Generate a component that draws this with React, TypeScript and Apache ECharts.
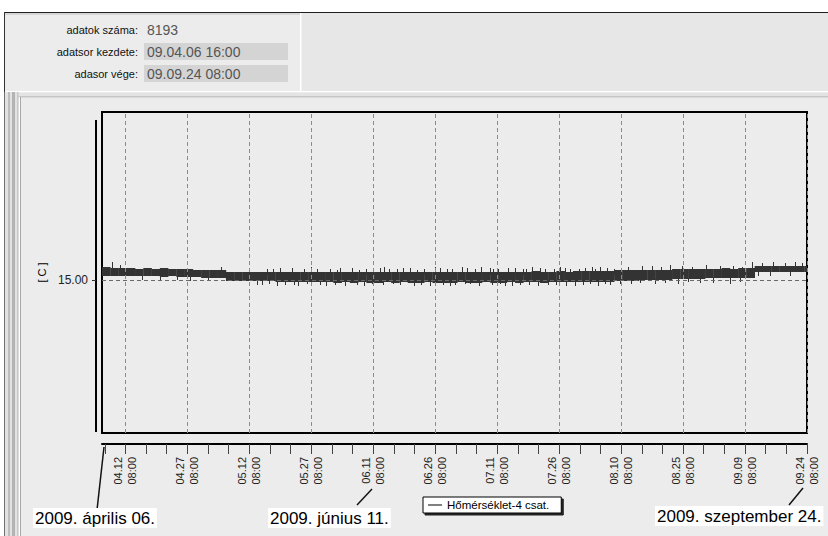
import React, { useEffect, useRef } from "react";
import * as echarts from "echarts";

// ---------- data ----------
const YEAR = 2009;
const SERIES_NAME = "Hőmérséklet-4 csat.";
const SERIES_START = ["04.06", "16:00"];
const SERIES_END = ["09.24", "08:00"];
const LABEL_DATES = ["04.12", "04.27", "05.12", "05.27", "06.11", "06.26", "07.11", "07.26", "08.10", "08.25", "09.09", "09.24"];
const LABEL_TIME = "08:00";
const MINOR_TICK_DAYS = 5;
const Y_TICKS = [15];
const Y_MIN = 13.47;
const Y_MAX = 16.68;

const INFO_LABELS = ["adatok száma:", "adatsor kezdete:", "adasor vége:"];
const INFO_VALUES = ["8193", "09.04.06 16:00", "09.09.24 08:00"];
const DATE_NOTES = ["2009. április 06.", "2009. június 11.", "2009. szeptember 24."];

// band envelope per 2-day bucket (high / low, °C)
const BUCKET_DAYS = 2;
const BAND_HIGH = [
  15.13, 15.12, 15.12, 15.12, 15.11, 15.12, 15.11, 15.12, 15.11, 15.11, 15.11, 15.10, 15.10, 15.10, 15.10,
  15.08, 15.08, 15.08, 15.08, 15.08, 15.08, 15.08, 15.08, 15.08, 15.08, 15.08, 15.08, 15.08, 15.08, 15.08,
  15.08, 15.08, 15.08, 15.08, 15.08, 15.08, 15.08, 15.08, 15.08, 15.08, 15.08, 15.08, 15.08, 15.08, 15.08,
  15.08, 15.08, 15.08, 15.08, 15.08, 15.08, 15.08, 15.09, 15.08, 15.08, 15.09, 15.08, 15.09, 15.09, 15.09,
  15.09, 15.09, 15.10,
  15.10, 15.10, 15.10, 15.10, 15.10, 15.10, 15.11, 15.11, 15.11, 15.11, 15.11, 15.11, 15.12, 15.11, 15.12, 15.12,
  15.14, 15.14, 15.14, 15.14, 15.14, 15.14, 15.14,
];
const BAND_LOW = [
  15.04, 15.04, 15.04, 15.04, 15.04, 15.04, 15.04, 15.03, 15.04, 15.03, 15.03, 15.03, 15.02, 15.02, 15.02,
  14.99, 14.99, 14.99, 14.99, 14.99, 14.99, 14.98, 14.98, 14.98, 14.98, 14.98, 14.98, 14.98, 14.97, 14.98,
  14.97, 14.98, 14.97, 14.97, 14.98, 14.97, 14.98, 14.97, 14.97, 14.98, 14.97, 14.97, 14.97, 14.98, 14.97,
  14.97, 14.98, 14.97, 14.97, 14.98, 14.97, 14.98, 14.98, 14.97, 14.98, 14.98, 14.98, 14.98, 14.98, 14.98,
  14.98, 14.98, 14.99,
  14.99, 14.99, 15.00, 15.00, 15.00, 15.00, 15.01, 15.01, 15.01, 15.01, 15.02, 15.02, 15.02, 15.02, 15.02, 15.02,
  15.08, 15.08, 15.08, 15.08, 15.08, 15.08, 15.08,
];
// individual spikes: [day since 04.06 00:00, low, high]
const SPIKES = [
  [3.1, 15.08, 15.18], [5.0, 15.10, 15.15], [10.4, 15.0, 15.05], [14.7, 15.0, 15.05], [18.8, 15.0, 15.05],
  [22.0, 14.99, 15.04], [26.3, 15.0, 15.04], [29.5, 15.09, 15.13],
  // downward strokes
  [38.2, 14.95, 15.0], [39.5, 14.95, 15.0], [41.0, 14.96, 15.0], [43.0, 14.94, 15.0], [45.0, 14.95, 15.0],
  [47.2, 14.95, 15.0], [48.1, 14.94, 15.0], [50.3, 14.96, 15.0], [53.4, 14.95, 15.0], [55.0, 14.94, 15.0],
  [57.0, 14.95, 15.0], [59.5, 14.94, 15.0], [62.4, 14.95, 15.0], [64.0, 14.94, 15.0], [66.0, 14.96, 15.0],
  [68.8, 14.95, 15.0], [71.0, 14.96, 15.0], [72.8, 14.95, 15.0], [76.1, 14.94, 15.0], [78.0, 14.95, 15.0],
  [80.1, 14.94, 15.0], [83.2, 14.95, 15.0], [85.0, 14.94, 15.0], [86.1, 14.95, 15.0], [88.5, 14.96, 15.0],
  [89.8, 14.96, 15.0], [92.0, 14.94, 15.0], [95.0, 14.95, 15.0], [97.0, 14.96, 15.0], [98.2, 14.94, 15.0],
  [100.0, 14.94, 15.0], [101.9, 14.95, 15.0], [104.0, 14.95, 15.0], [106.2, 14.94, 15.0], [108.6, 14.95, 15.0],
  [110.6, 14.95, 15.0], [113.0, 14.94, 15.0], [115.2, 14.94, 15.0], [117.0, 14.95, 15.0], [118.8, 14.96, 15.0],
  [120.8, 14.94, 15.0], [122.5, 14.96, 15.0], [123.6, 14.95, 15.0],
  // upward strokes
  [40.5, 15.05, 15.11], [42.1, 15.05, 15.11], [43.8, 15.05, 15.12], [46.7, 15.05, 15.12], [49.6, 15.05, 15.11],
  [51.2, 15.05, 15.13], [52.8, 15.05, 15.11], [55.9, 15.05, 15.11], [57.5, 15.05, 15.10], [58.3, 15.05, 15.12],
  [61.2, 15.05, 15.12], [63.0, 15.05, 15.10], [64.5, 15.05, 15.11], [67.9, 15.05, 15.12], [69.0, 15.05, 15.13],
  [70.1, 15.05, 15.11], [72.0, 15.05, 15.11], [73.6, 15.05, 15.12], [75.2, 15.05, 15.12], [77.0, 15.05, 15.10],
  [78.5, 15.05, 15.11], [81.2, 15.05, 15.13], [82.5, 15.05, 15.12], [84.3, 15.05, 15.11], [85.5, 15.05, 15.11],
  [87.8, 15.05, 15.13], [89.0, 15.05, 15.12], [91.0, 15.05, 15.11], [92.4, 15.05, 15.13], [94.6, 15.05, 15.12],
  [95.3, 15.05, 15.11], [96.5, 15.05, 15.11], [98.9, 15.05, 15.12], [100.6, 15.05, 15.12], [102.5, 15.05, 15.11],
  [103.4, 15.05, 15.11], [104.8, 15.05, 15.13], [106.7, 15.05, 15.12], [108.0, 15.05, 15.11], [110.0, 15.05, 15.11],
  [111.5, 15.05, 15.13], [112.8, 15.05, 15.12], [114.0, 15.05, 15.11], [116.1, 15.05, 15.11], [117.6, 15.05, 15.12],
  [119.2, 15.05, 15.13], [120.0, 15.05, 15.11], [121.2, 15.05, 15.13], [123.0, 15.05, 15.12], [124.7, 15.05, 15.11],
  // late summer
  [126.0, 14.96, 15.01], [128.8, 14.96, 15.01], [130.9, 14.97, 15.01], [134.5, 14.96, 15.01], [137.0, 14.97, 15.02],
  [140.0, 14.96, 15.02], [142.6, 14.98, 15.02], [145.4, 14.97, 15.03], [148.5, 14.97, 15.03], [152.7, 14.96, 15.03],
  [155.0, 14.98, 15.03],
  [128.0, 15.07, 15.13], [131.5, 15.07, 15.14], [133.8, 15.08, 15.14], [136.0, 15.08, 15.13], [138.2, 15.08, 15.15],
  [141.0, 15.08, 15.14], [143.5, 15.08, 15.13], [147.0, 15.08, 15.15], [150.3, 15.09, 15.14], [153.5, 15.09, 15.14],
  [155.5, 15.09, 15.13],
  [158.0, 15.10, 15.18], [160.4, 15.10, 15.17], [163.1, 15.10, 15.18], [166.0, 15.10, 15.17], [168.4, 15.10, 15.18],
  [170.1, 15.10, 15.17], [159.5, 15.04, 15.09], [162.4, 15.04, 15.09], [167.2, 15.04, 15.09],
];

// ---------- helpers ----------
function dayOf(mmdd: string, hhmm: string): number {
  const [m, d] = mmdd.split(".").map(Number);
  const [h, mi] = hhmm.split(":").map(Number);
  return (Date.UTC(YEAR, m - 1, d, h, mi) - Date.UTC(YEAR, 3, 6)) / 86400000;
}

const FONT = '"Liberation Sans", Arial, sans-serif';

export default function App() {
  const ref = useRef<HTMLDivElement>(null);

  useEffect(() => {
    if (!ref.current) return;
    const chart = echarts.init(ref.current, null, { renderer: "svg" });

    const START = dayOf(SERIES_START[0], SERIES_START[1]);
    const END = dayOf(SERIES_END[0], SERIES_END[1]);
    const labelPos = LABEL_DATES.map((d) => dayOf(d, LABEL_TIME));
    let t0 = labelPos[0];
    while (t0 - MINOR_TICK_DAYS >= START - 1e-9) t0 -= MINOR_TICK_DAYS;
    const minorTicks: number[] = [];
    for (let t = t0; t <= END + 1e-6; t += MINOR_TICK_DAYS) minorTicks.push(t);

    const bandData = BAND_HIGH.map((hi, i) => [
      START + i * BUCKET_DAYS,
      Math.min(START + (i + 1) * BUCKET_DAYS, END),
      BAND_LOW[i],
      hi,
    ]);

    const graphics: any[] = [];
    const rect = (x: number, y: number, w: number, h: number, fill: string) =>
      graphics.push({ type: "rect", silent: true, shape: { x, y, width: w, height: h }, style: { fill } });
    // window chrome
    rect(0, 0, 828, 12, "#ffffff");
    rect(0, 0, 4, 536, "#ffffff");
    rect(5, 13, 823, 78, "#E7E7E7");
    rect(5, 13, 295, 78, "#ECECEC");
    rect(5, 13, 295, 2, "#D6D6D6");
    rect(300, 13, 1.5, 78, "#ffffff");
    rect(5, 91, 823, 1.5, "#ffffff");
    rect(5, 92.5, 823, 3.5, "#E3E3E3");
    rect(5, 96, 823, 1.5, "#C6C6C6");
    rect(4, 12, 824, 1, "#1e1e1e");
    rect(4, 12, 1, 80, "#333333");
    rect(4, 92, 1, 444, "#707070");
    rect(5, 92, 3, 444, "#E2E2E2");
    rect(8, 92, 2, 444, "#BDBDBD");
    rect(10, 92, 2, 444, "#E2E2E2");
    rect(12, 92, 3, 444, "#B4B4B4");
    rect(15, 92, 2, 444, "#E2E2E2");
    rect(17, 92, 1.5, 444, "#C8C8C8");
    rect(19, 97, 1, 439, "#FFFFFF");
    rect(20, 97, 1, 439, "#A8A8A8");
    // separate value-scale bar to the left of the plot
    rect(95, 120, 2, 312, "#000000");
    // info panel
    const rowY = [30, 52, 74];
    INFO_LABELS.forEach((lab, i) => {
      if (i > 0) rect(144, rowY[i] - 9, 144, 17, "#D4D4D4");
      graphics.push({
        type: "text",
        silent: true,
        style: { text: lab, x: 138, y: rowY[i], align: "right", verticalAlign: "middle", fill: "#111", font: `11px ${FONT}` },
      });
      graphics.push({
        type: "text",
        silent: true,
        style: { text: INFO_VALUES[i], x: 147, y: rowY[i], align: "left", verticalAlign: "middle", fill: "#555", font: `14px ${FONT}` },
      });
    });
    // date notes with leader lines
    const notes = [
      { x: 33, y: 518, line: [104, 447, 97, 510] },
      { x: 268, y: 518, line: [372, 489, 357, 505] },
      { x: 655, y: 516, line: [803, 488, 789, 505] },
    ];
    notes.forEach((n, i) => {
      graphics.push({
        type: "line",
        silent: true,
        z: 50,
        shape: { x1: n.line[0], y1: n.line[1], x2: n.line[2], y2: n.line[3] },
        style: { stroke: "#111", lineWidth: 1.5 },
      });
      graphics.push({
        type: "text",
        silent: true,
        z: 51,
        style: {
          text: DATE_NOTES[i],
          x: n.x,
          y: n.y,
          verticalAlign: "middle",
          fill: "#000",
          font: `17px ${FONT}`,
          backgroundColor: "#ffffff",
          padding: [2, 2, 1, 2],
        },
      });
    });

    chart.setOption({
      animation: false,
      backgroundColor: "#ECECEC",
      textStyle: { fontFamily: FONT },
      grid: {
        left: 102,
        top: 112,
        width: 705,
        height: 321,
        show: true,
        borderColor: "#000",
        borderWidth: 2,
        backgroundColor: "transparent",
        containLabel: false,
        outerBoundsMode: "none",
      },
      legend: {
        data: [SERIES_NAME],
        left: 423,
        top: 497,
        icon: "rect",
        itemWidth: 14,
        itemHeight: 1,
        itemGap: 4,
        padding: [2, 12, 2, 5],
        backgroundColor: "#ffffff",
        borderColor: "#000",
        borderWidth: 1,
        shadowColor: "#222",
        shadowOffsetX: 2,
        shadowOffsetY: 2,
        shadowBlur: 0,
        selectedMode: false,
        itemStyle: { color: "#000" },
        textStyle: { fontSize: 11.5, color: "#000", fontFamily: FONT },
      },
      xAxis: {
        type: "value",
        min: START,
        max: END,
        offset: 11,
        axisLine: { show: true, lineStyle: { color: "#000", width: 2 } },
        axisTick: { show: true, length: 10, customValues: minorTicks, lineStyle: { color: "#444", width: 1 } },
        axisLabel: {
          customValues: labelPos,
          rotate: 90,
          margin: 13,
          fontSize: 11,
          lineHeight: 14,
          color: "#222",
          fontFamily: FONT,
          hideOverlap: false,
          showMinLabel: true,
          showMaxLabel: true,
          formatter: (v: number) => {
            const i = labelPos.findIndex((p) => Math.abs(p - v) < 0.01);
            return i >= 0 ? `${LABEL_DATES[i]}\n${LABEL_TIME}` : "";
          },
        },
        splitLine: { show: false },
      },
      yAxis: {
        type: "value",
        min: Y_MIN,
        max: Y_MAX,
        offset: 6,
        name: "[ C ]",
        nameLocation: "middle",
        nameRotate: 90,
        nameGap: 45,
        nameTextStyle: { fontSize: 11, color: "#000", fontFamily: FONT },
        axisLine: { show: false },
        axisTick: { show: true, length: 4, customValues: Y_TICKS, lineStyle: { color: "#333" } },
        axisLabel: {
          customValues: Y_TICKS,
          margin: 8,
          fontSize: 12,
          color: "#222",
          fontFamily: FONT,
          formatter: (v: number) => v.toFixed(2),
        },
        splitLine: { show: false },
      },
      series: [
        {
          type: "line",
          data: [],
          z: 1,
          silent: true,
          markLine: {
            silent: true,
            symbol: ["none", "none"],
            label: { show: false },
            lineStyle: { type: [4, 3], color: "#8c8c8c", width: 1 },
            data: [
              ...labelPos.map((p) => ({ xAxis: p })),
              ...Y_TICKS.map((v) => ({ yAxis: v, lineStyle: { color: "#6a6a6a", type: [4, 3], width: 1 } })),
            ],
          },
        },
        {
          name: SERIES_NAME,
          type: "custom",
          z: 3,
          clip: true,
          silent: true,
          itemStyle: { color: "#333" },
          encode: { x: [0, 1], y: [2, 3] },
          data: bandData,
          renderItem: (_p: any, api: any) => {
            const a = api.coord([api.value(0), api.value(3)]);
            const b = api.coord([api.value(1), api.value(2)]);
            return {
              type: "rect",
              shape: { x: a[0], y: a[1], width: b[0] - a[0] + 0.3, height: b[1] - a[1] },
              style: { fill: "#333" },
            };
          },
        },
        {
          name: SERIES_NAME,
          type: "custom",
          z: 4,
          clip: true,
          silent: true,
          itemStyle: { color: "#333" },
          encode: { x: 0, y: [1, 2] },
          data: SPIKES,
          renderItem: (_p: any, api: any) => {
            const a = api.coord([api.value(0), api.value(1)]);
            const b = api.coord([api.value(0), api.value(2)]);
            const x = Math.round(a[0]) + 0.5;
            return {
              type: "line",
              shape: { x1: x, y1: a[1], x2: x, y2: b[1] },
              style: { stroke: "#333", lineWidth: 1 },
            };
          },
        },
      ],
      graphic: graphics,
    });

    return () => chart.dispose();
  }, []);

  return <div ref={ref} style={{ position: "fixed", left: 0, top: 0, width: 828, height: 536 }} />;
}
